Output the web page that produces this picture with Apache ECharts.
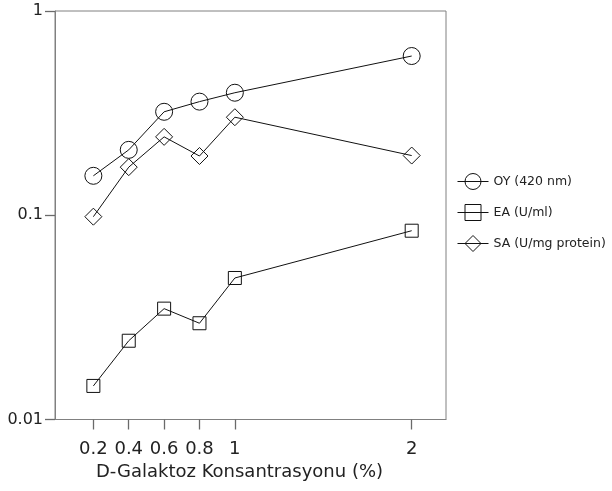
<!DOCTYPE html>
<html><head><meta charset="utf-8">
<script src="https://cdn.jsdelivr.net/npm/echarts@6/dist/echarts.min.js"></script>
<style>html,body{margin:0;padding:0;background:#fff}#c{width:612px;height:491px}</style>
</head><body><div id="c"></div>
<script>
var concentrations = [0.2, 0.4, 0.6, 0.8, 1, 2];
var oyValues = [0.156, 0.209, 0.321, 0.360, 0.398, 0.602];
var eaValues = [0.0146, 0.0243, 0.0349, 0.0296, 0.0493, 0.084];
var saValues = [0.0984, 0.172, 0.242, 0.195, 0.302, 0.196];
var xTicks = [0.2, 0.4, 0.6, 0.8, 1, 2];
var seriesNames = ['OY (420 nm)', 'EA (U/ml)', 'SA (U/mg protein)'];
var xAxisTitle = 'D-Galaktoz Konsantrasyonu (%)';

function pairs(vals){ return concentrations.map(function(x,i){return [x, vals[i]];}); }
var font = 'DejaVu Sans';
function mk(name, vals, symbol, size){
  return {
    name: name, type: 'line', data: pairs(vals), symbol: symbol, symbolSize: size,
    showAllSymbol: true,
    lineStyle: {color: '#111', width: 1},
    itemStyle: {color: 'rgba(255,255,255,0)', borderColor: '#111', borderWidth: 1},
    emphasis: {disabled: true}, animation: false
  };
}
var chart = echarts.init(document.getElementById('c'));
chart.setOption({
  animation: false,
  grid: {left: 55, top: 11, right: 166, bottom: 71.5, show: true, borderColor: '#808080', borderWidth: 1},
  legend: {
    orient: 'vertical', left: 452, top: 168, itemWidth: 31, itemHeight: 20, itemGap: 14,
    itemStyle: {borderWidth: 1, borderColor: '#111', color: 'rgba(255,255,255,0)'},
    lineStyle: {width: 1, color: '#111'},
    textStyle: {fontFamily: font, fontSize: 12.5, color: '#222'},
    data: seriesNames
  },
  xAxis: {
    type: 'value', min: -0.017, max: 2.194,
    name: xAxisTitle, nameLocation: 'middle', nameGap: 44,
    nameTextStyle: {fontFamily: font, fontSize: 18, color: '#222', padding: [0, 22, 0, 0]},
    axisLine: {show: true, onZero: false, lineStyle: {color: '#808080', width: 1}},
    axisTick: {show: true, inside: false, length: 10, customValues: xTicks, lineStyle: {color: '#6a6a6a', width: 1.3}},
    axisLabel: {customValues: xTicks, fontFamily: font, fontSize: 18, color: '#222', margin: 21,
      formatter: function(v){ return String(Number(v.toPrecision(6))); }},
    splitLine: {show: false}
  },
  yAxis: {
    type: 'log', logBase: 10, min: 0.01, max: 1,
    axisLine: {show: true, onZero: false, lineStyle: {color: '#808080', width: 1}},
    axisTick: {show: true, inside: false, length: 10, lineStyle: {color: '#6a6a6a', width: 1.3}},
    minorTick: {show: false},
    axisLabel: {fontFamily: font, fontSize: 16, color: '#222', margin: 12,
      formatter: function(v){ return String(Number(Number(v).toPrecision(6))); }},
    splitLine: {show: false}
  },
  series: [
    mk(seriesNames[0], oyValues, 'circle', 17),
    mk(seriesNames[1], eaValues, 'rect', 13),
    mk(seriesNames[2], saValues, 'diamond', 17)
  ]
});
</script></body></html>
